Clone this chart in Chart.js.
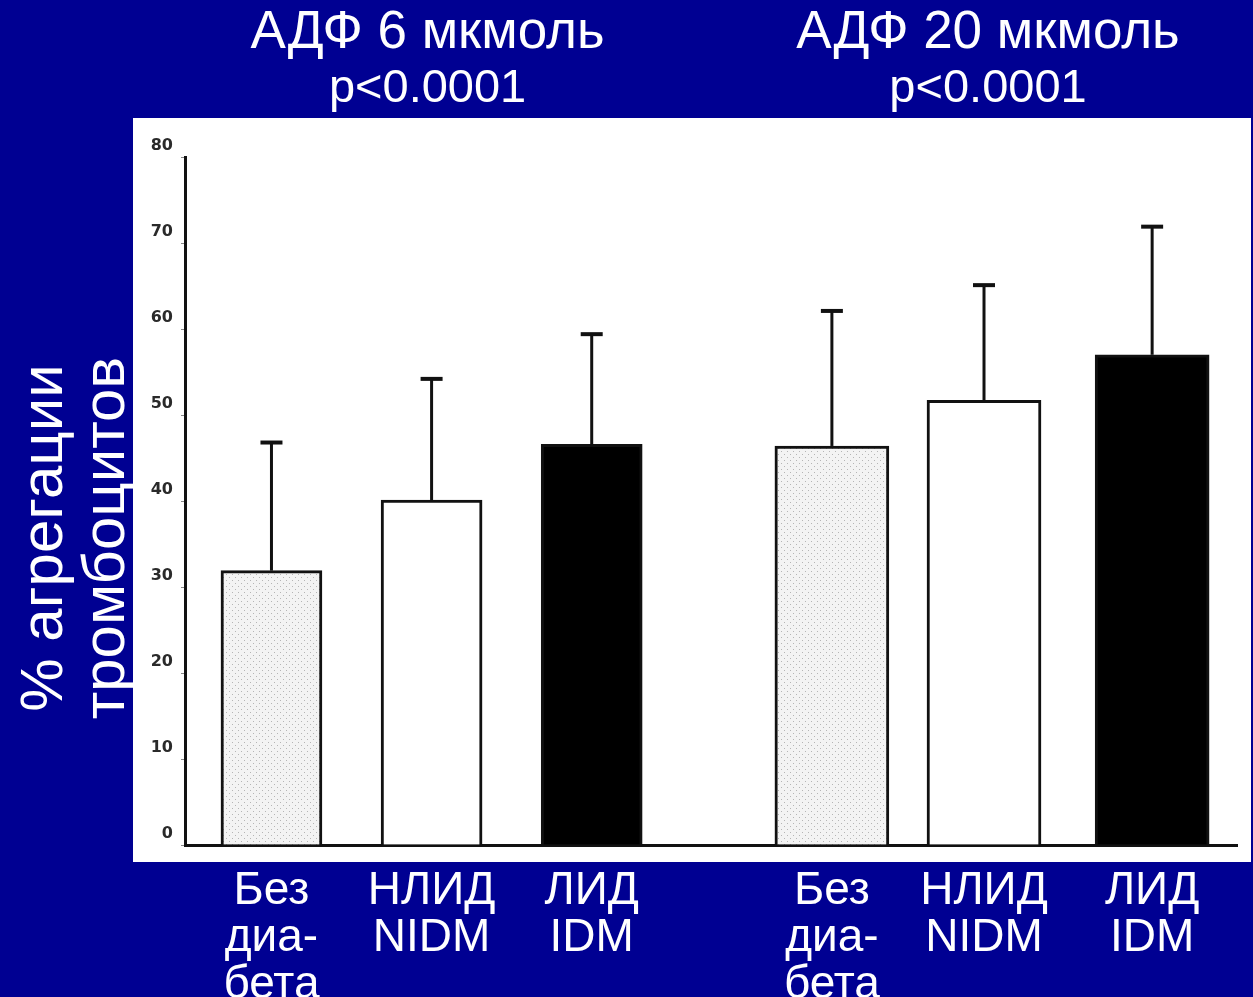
<!DOCTYPE html>
<html lang="ru">
<head>
<meta charset="utf-8">
<title>Агрегация тромбоцитов</title>
<script src="https://cdn.jsdelivr.net/npm/chart.js@4.4.0/dist/chart.umd.min.js"></script>
<style>
  html, body { margin: 0; padding: 0; background: #000092; }
  #wrap { width: 1253px; height: 997px; }
</style>
</head>
<body>
<div id="wrap"><canvas id="grafico" width="1253" height="997"></canvas></div>
<script>
// data
const groupTitles = ['АДФ 6 мкмоль', 'АДФ 20 мкмоль'];
const groupP = ['p<0.0001', 'p<0.0001'];
const categories = [['Без', 'диа-', 'бета'], ['НЛИД', 'NIDM'], ['ЛИД', 'IDM']];
const yTitle = ['% агрегации', 'тромбоцитов'];
const yTicks = [0, 10, 20, 30, 40, 50, 60, 70, 80];

const pos6 = [1, 2, 3];
const pos20 = [4.5, 5.45, 6.5];
const means6 = [31.9, 40.1, 46.6];
const means20 = [46.4, 51.7, 57.0];
const upper6 = [46.8, 54.2, 59.4];
const upper20 = [62.1, 65.1, 71.9];

const FONT = "'Liberation Sans', Arial, sans-serif";
const BLUE = '#000092';

const canvas = document.getElementById('grafico');
const ctx = canvas.getContext('2d');

function makeDots() {
  const c = document.createElement('canvas');
  c.width = 6;
  c.height = 6;
  const g = c.getContext('2d');
  g.fillStyle = '#f3f3f3';
  g.fillRect(0, 0, 6, 6);
  g.fillStyle = '#b5b5b5';
  g.fillRect(1, 1, 1, 1);
  g.fillRect(4, 4, 1, 1);
  return ctx.createPattern(c, 'repeat');
}

const fills = [makeDots(), '#ffffff', '#000000'];

const backgroundPlugin = {
  id: 'fundo',
  beforeDraw(chart) {
    const c = chart.ctx;
    c.save();
    c.fillStyle = BLUE;
    c.fillRect(0, 0, chart.width, chart.height);
    c.fillStyle = '#ffffff';
    c.fillRect(133, 118, 1118, 744);
    c.restore();
  }
};

const errorBarPlugin = {
  id: 'erros',
  afterDatasetsDraw(chart) {
    const c = chart.ctx;
    const yScale = chart.scales.y;
    c.save();
    c.strokeStyle = '#111';
    chart.data.datasets.forEach((ds, d) => {
      const meta = chart.getDatasetMeta(d);
      meta.data.forEach((bar, i) => {
        const yTop = yScale.getPixelForValue(ds.upper[i]);
        c.lineWidth = 3;
        c.beginPath();
        c.moveTo(bar.x, bar.y);
        c.lineTo(bar.x, yTop);
        c.stroke();
        c.lineWidth = 4;
        c.beginPath();
        c.moveTo(bar.x - 11, yTop);
        c.lineTo(bar.x + 11, yTop);
        c.stroke();
      });
    });
    c.restore();
  }
};

const textPlugin = {
  id: 'textos',
  afterDraw(chart) {
    const c = chart.ctx;
    const xScale = chart.scales.x;
    c.save();
    c.fillStyle = '#ffffff';
    c.textAlign = 'center';
    c.textBaseline = 'alphabetic';
    [pos6, pos20].forEach((pos, g) => {
      const cx = (xScale.getPixelForValue(pos[0]) + xScale.getPixelForValue(pos[pos.length - 1])) / 2 - 4;
      c.font = '53px ' + FONT;
      c.fillText(groupTitles[g], cx, 48);
      c.font = '47px ' + FONT;
      c.fillText(groupP[g], cx, 102);
    });
    c.font = '60px ' + FONT;
    [62, 124].forEach((bx, i) => {
      c.save();
      c.translate(bx, 538);
      c.rotate(-Math.PI / 2);
      c.fillText(yTitle[i], 0, 0);
      c.restore();
    });
    c.restore();
  }
};

const allPos = pos6.concat(pos20);

new Chart(ctx, {
  type: 'bar',
  data: {
    datasets: [
      {
        label: groupTitles[0],
        data: pos6.map((x, i) => ({ x: x, y: means6[i] })),
        upper: upper6,
        backgroundColor: fills,
        borderColor: '#111',
        borderWidth: 3,
        barThickness: 101
      },
      {
        label: groupTitles[1],
        data: pos20.map((x, i) => ({ x: x, y: means20[i] })),
        upper: upper20,
        backgroundColor: fills,
        borderColor: '#111',
        borderWidth: 3,
        barThickness: 114
      }
    ]
  },
  options: {
    responsive: false,
    animation: false,
    layout: { padding: { left: 0, right: 16, top: 157, bottom: 0 } },
    datasets: { bar: { grouped: false } },
    plugins: {
      legend: { display: false },
      tooltip: { enabled: false }
    },
    scales: {
      x: {
        type: 'linear',
        offset: false,
        min: 0.46,
        max: 7.03,
        grid: { display: false, drawTicks: false },
        border: { display: true, color: '#111', width: 3 },
        afterBuildTicks: s => { s.ticks = allPos.map(v => ({ value: v })); },
        afterFit: s => { s.height = 152; },
        ticks: {
          autoSkip: false,
          maxRotation: 0,
          padding: 23,
          color: '#ffffff',
          font: { family: FONT, size: 46, lineHeight: '47px' },
          callback: (v, i) => categories[i % 3]
        }
      },
      y: {
        min: 0,
        max: 80,
        afterBuildTicks: s => { s.ticks = yTicks.map(v => ({ value: v })); },
        afterFit: s => { s.width = 185; },
        grid: { drawOnChartArea: false, tickLength: 4, color: '#888', lineWidth: 1 },
        border: { color: '#111', width: 3 },
        ticks: {
          padding: 8,
          labelOffset: -11,
          color: '#2a2a2a',
          font: { family: 'DejaVu Sans', size: 16, weight: 'bold' }
        }
      }
    }
  },
  plugins: [backgroundPlugin, errorBarPlugin, textPlugin]
});
</script>
</body>
</html>
